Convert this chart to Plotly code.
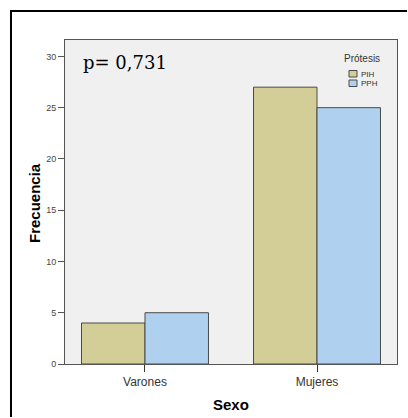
import plotly.graph_objects as go

# Frequencies by sex and prosthesis type
categories = ["Varones", "Mujeres"]
series_names = ["PIH", "PPH"]
pih_values = [4, 27]
pph_values = [5, 25]
y_tick_values = [0, 5, 10, 15, 20, 25, 30]
p_label = "p= 0,731"

colors = {"PIH": "#D3CE97", "PPH": "#AFD0EE"}
edge = "#4A4A4A"

W, H = 408, 418
ML, MR, MT, MB = 65, 11, 40, 54
PW, PH = W - ML - MR, H - MT - MB


def px_x(x):
    return (x - ML) / PW


def px_y(y):
    return (H - MB - y) / PH


fig = go.Figure()
for name, vals in zip(series_names, [pih_values, pph_values]):
    fig.add_trace(go.Bar(
        x=categories, y=vals, name=name,
        marker=dict(color=colors[name], line=dict(color=edge, width=1)),
        showlegend=False,
    ))

# outer frame (left and top edges), kept inside the figure
frame_path = "M {l},{b} L {l},{t} L {r},{t}".format(
    l=px_x(11), b=px_y(H - 1), t=px_y(11), r=px_x(W - 1))
shapes = [
    dict(type="path", xref="paper", yref="paper", path=frame_path,
         line=dict(color="black", width=2), layer="above"),
]
annotations = [
    dict(text=p_label, xref="paper", yref="paper", x=px_x(81), y=px_y(63),
         xanchor="left", yanchor="middle", showarrow=False,
         font=dict(family="DejaVu Serif", size=18, color="black")),
    dict(text="Prótesis", xref="paper", yref="paper", x=px_x(362), y=px_y(58),
         xanchor="center", yanchor="middle", showarrow=False,
         font=dict(family="Liberation Sans", size=10, color="#333")),
    dict(text="Frecuencia", xref="paper", yref="paper", x=px_x(34), y=px_y(203),
         xanchor="center", yanchor="middle", showarrow=False, textangle=-90,
         font=dict(family="Liberation Sans", size=15, color="black", weight="bold")),
    dict(text="Sexo", xref="paper", yref="paper", x=px_x(231), y=px_y(404),
         xanchor="center", yanchor="middle", showarrow=False,
         font=dict(family="Liberation Sans", size=15, color="black", weight="bold")),
]
# legend swatches and labels
for i, name in enumerate(series_names):
    top = 70.5 + i * 9.5
    shapes.append(dict(type="rect", xref="paper", yref="paper",
                       x0=px_x(349), x1=px_x(357), y0=px_y(top + 6.5), y1=px_y(top),
                       fillcolor=colors[name], line=dict(color=edge, width=1)))
    annotations.append(dict(text=name, xref="paper", yref="paper",
                            x=px_x(358.5), y=px_y(top + 3.5),
                            xanchor="left", yanchor="middle", showarrow=False,
                            font=dict(family="Liberation Sans", size=8, color="#333")))

fig.update_layout(
    width=W, height=H,
    margin=dict(l=ML, r=MR, t=MT, b=MB, pad=0),
    paper_bgcolor="white", plot_bgcolor="#F0F0F0",
    barmode="group", bargap=0.262, bargroupgap=0,
    shapes=shapes, annotations=annotations,
    xaxis=dict(range=[-0.465, 1.465], showgrid=False, zeroline=False,
               showline=True, linecolor="#555", linewidth=1, mirror=True,
               ticks="outside", ticklen=7, tickcolor="#333",
               tickfont=dict(family="Liberation Sans", size=12, color="#333")),
    yaxis=dict(range=[0, 31.6], showgrid=False, zeroline=False,
               showline=True, linecolor="#555", linewidth=1, mirror=True,
               tickvals=y_tick_values, ticks="outside", ticklen=6, tickcolor="#555",
               tickfont=dict(family="Liberation Sans", size=9, color="#444")),
)

# static page: no mode bar, no page scrolling
page_style = (
    "document.documentElement.style.overflow='hidden';"
    "document.body.style.overflow='hidden';"
)
fig.write_html("out.html", config={"displayModeBar": False, "staticPlot": True},
               post_script=page_style)
